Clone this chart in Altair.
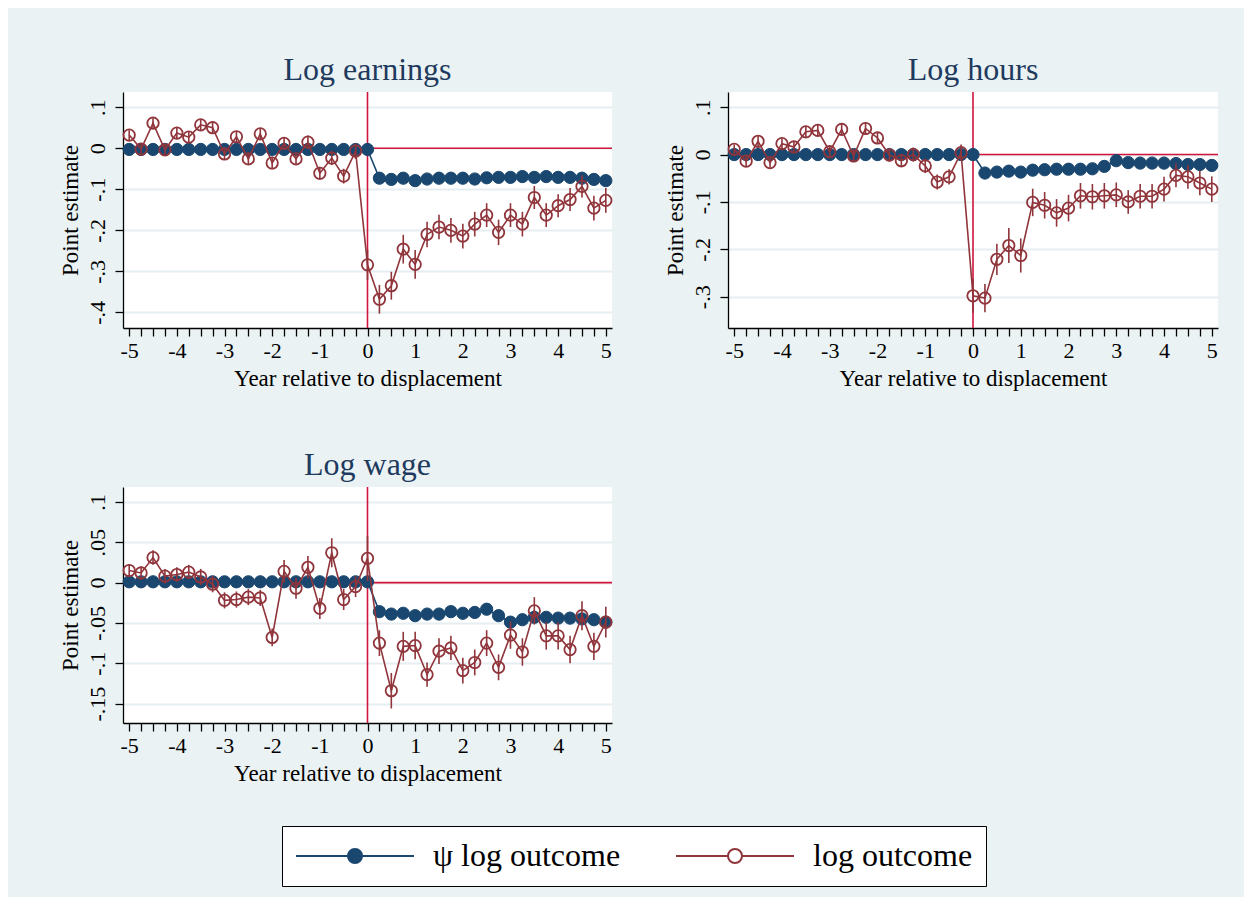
import altair as alt
import pandas as pd

# ---------------- data ----------------
QUARTERS = [-5.0, -4.75, -4.5, -4.25, -4.0, -3.75, -3.5, -3.25, -3.0, -2.75, -2.5,
            -2.25, -2.0, -1.75, -1.5, -1.25, -1.0, -0.75, -0.5, -0.25, 0.0,
            0.25, 0.5, 0.75, 1.0, 1.25, 1.5, 1.75, 2.0, 2.25, 2.5,
            2.75, 3.0, 3.25, 3.5, 3.75, 4.0, 4.25, 4.5, 4.75, 5.0]
SERIES = ["ψ log outcome", "log outcome"]

# Log earnings
EARN_PSI = [-0.003, -0.003, -0.003, -0.003, -0.003, -0.003, -0.003, -0.003, -0.003, -0.003,
            -0.003, -0.003, -0.003, -0.003, -0.003, -0.003, -0.003, -0.003, -0.003, -0.003,
            -0.003,
            -0.073, -0.076, -0.073, -0.079, -0.075, -0.073, -0.073, -0.073, -0.075, -0.072,
            -0.071, -0.071, -0.069, -0.071, -0.069, -0.071, -0.071, -0.073, -0.076, -0.079]
EARN_LOG = [0.032, -0.002, 0.061, -0.004, 0.037, 0.027, 0.057, 0.050, -0.014, 0.028,
            -0.026, 0.035, -0.036, 0.012, -0.026, 0.015, -0.061, -0.024, -0.068, -0.007,
            -0.284,
            -0.368, -0.335, -0.246, -0.283, -0.210, -0.192, -0.200, -0.214, -0.185, -0.163,
            -0.205, -0.163, -0.185, -0.120, -0.163, -0.140, -0.125, -0.093, -0.146, -0.127]
EARN_CI = [0.012, 0.012, 0.012, 0.013, 0.013, 0.013, 0.013, 0.013, 0.014, 0.014,
           0.014, 0.014, 0.015, 0.015, 0.015, 0.016, 0.016, 0.017, 0.018, 0.019,
           0.037,
           0.035, 0.034, 0.035, 0.035, 0.031, 0.030, 0.030, 0.030, 0.030, 0.029,
           0.031, 0.029, 0.030, 0.028, 0.029, 0.028, 0.028, 0.027, 0.030, 0.030]

# Log hours
HOUR_PSI = [0.000, 0.000, 0.000, 0.000, 0.000, 0.000, 0.000, 0.000, 0.000, 0.000,
            0.000, 0.000, 0.000, 0.000, 0.000, 0.000, 0.000, 0.000, 0.000, 0.000,
            0.000,
            -0.039, -0.037, -0.035, -0.037, -0.033, -0.032, -0.031, -0.031, -0.031, -0.030,
            -0.025, -0.013, -0.017, -0.018, -0.018, -0.018, -0.019, -0.021, -0.021, -0.023]
HOUR_LOG = [0.011, -0.014, 0.028, -0.017, 0.023, 0.016, 0.048, 0.051, 0.006, 0.053,
            -0.003, 0.055, 0.035, -0.001, -0.013, 0.000, -0.024, -0.058, -0.047, 0.004,
            -0.298,
            -0.303, -0.221, -0.192, -0.213, -0.101, -0.107, -0.123, -0.113, -0.087, -0.089,
            -0.087, -0.085, -0.100, -0.088, -0.088, -0.073, -0.044, -0.047, -0.060, -0.073]
HOUR_CI = [0.010, 0.010, 0.011, 0.011, 0.011, 0.011, 0.012, 0.012, 0.012, 0.012,
           0.013, 0.013, 0.013, 0.014, 0.014, 0.015, 0.015, 0.016, 0.016, 0.017,
           0.036,
           0.030, 0.033, 0.037, 0.036, 0.029, 0.028, 0.029, 0.028, 0.027, 0.027,
           0.027, 0.026, 0.025, 0.026, 0.026, 0.026, 0.025, 0.025, 0.026, 0.027]

# Log wage
WAGE_PSI = [0.001, 0.001, 0.001, 0.001, 0.001, 0.001, 0.001, 0.001, 0.001, 0.001,
            0.001, 0.001, 0.001, 0.001, 0.001, 0.001, 0.001, 0.001, 0.001, 0.001,
            0.001,
            -0.036, -0.039, -0.038, -0.041, -0.039, -0.039, -0.036, -0.038, -0.037, -0.033,
            -0.041, -0.049, -0.046, -0.043, -0.043, -0.044, -0.044, -0.045, -0.046, -0.049]
WAGE_LOG = [0.015, 0.012, 0.031, 0.008, 0.010, 0.013, 0.007, -0.002, -0.022, -0.021,
            -0.018, -0.019, -0.068, 0.014, -0.007, 0.019, -0.032, 0.037, -0.021, -0.005,
            0.030,
            -0.075, -0.134, -0.079, -0.078, -0.114, -0.085, -0.081, -0.109, -0.099, -0.075,
            -0.105, -0.065, -0.086, -0.035, -0.066, -0.066, -0.083, -0.041, -0.079, -0.049]
WAGE_CI = [0.008, 0.008, 0.009, 0.009, 0.009, 0.009, 0.010, 0.010, 0.010, 0.010,
           0.010, 0.010, 0.011, 0.014, 0.013, 0.014, 0.013, 0.018, 0.013, 0.013,
           0.028,
           0.016, 0.022, 0.018, 0.017, 0.015, 0.016, 0.015, 0.016, 0.016, 0.016,
           0.016, 0.017, 0.017, 0.017, 0.017, 0.017, 0.017, 0.018, 0.017, 0.019]

EARN_TICKS = [0.1, 0, -0.1, -0.2, -0.3, -0.4]
HOUR_TICKS = [0.1, 0, -0.1, -0.2, -0.3]
WAGE_TICKS = [0.1, 0.05, 0, -0.05, -0.1, -0.15]

# ---------------- style ----------------
FONT = "Liberation Serif"
BG = "#EAF2F3"
GRID = "#E6EEF1"
BLUE = "#1A476F"
RED = "#90353B"
REF = "#D0143C"
TITLE_C = "#1E3A5E"
X_DOMAIN = [-5.13, 5.13]

R_U = 0.119
LEGEND_PATH = (f"M-1,0H-{R_U}M{R_U},0H1M-{R_U},0A{R_U},{R_U},0,1,1,{R_U},0"
               f"A{R_U},{R_U},0,1,1,-{R_U},0Z")

legend = alt.Legend(
    title=None, orient="none", legendX=159, legendY=734, direction="horizontal",
    symbolType=LEGEND_PATH, symbolSize=118 * 118, symbolStrokeWidth=2,
    labelFont=FONT, labelFontSize=32, labelColor="black", labelOffset=18,
    labelLimit=500, columnPadding=54, padding=13, clipHeight=34,
    strokeColor="black", fillColor="white",
)


def panel_df(psi, log, ci):
    rows = []
    for q, a, b, c in zip(QUARTERS, psi, log, ci):
        rows.append(dict(q=q, series=SERIES[0], est=a, lo=a, hi=a))
        rows.append(dict(q=q, series=SERIES[1], est=b, lo=b - c, hi=b + c))
    return pd.DataFrame(rows)


def panel(title, df, ydomain, yticks, width):
    xax = alt.Axis(values=QUARTERS, title="Year relative to displacement",
                   labelExpr="datum.value % 1 == 0 ? '' + datum.value : ''",
                   labelFlush=False, labelOverlap=False, grid=False)
    yax = alt.Axis(values=yticks, title="Point estimate",
                   labelExpr="replace('' + datum.value, '0.', '.')",
                   labelFlush=False, labelOverlap=False, grid=True)
    xs = alt.Scale(domain=X_DOMAIN, nice=False, zero=False)
    ys = alt.Scale(domain=ydomain, nice=False, zero=False)
    X = alt.X("q:Q", scale=xs, axis=xax)
    Y = alt.Y("est:Q", scale=ys, axis=yax)

    ref_v = pd.DataFrame({"q": [0.0]})
    ref_h = pd.DataFrame({"q": [0.0], "q2": [X_DOMAIN[1]], "est": [0.0]})

    stroke = alt.Stroke("series:N", scale=alt.Scale(domain=SERIES, range=[BLUE, RED]), legend=legend)
    fill = alt.Fill("series:N", scale=alt.Scale(domain=SERIES, range=[BLUE, "transparent"]), legend=legend)

    blue = df[df.series == SERIES[0]]
    red = df[df.series == SERIES[1]]

    vline = alt.Chart(ref_v).mark_rule(color=REF, strokeWidth=1.6).encode(x=X)
    hline = alt.Chart(ref_h).mark_rule(color=REF, strokeWidth=1.6).encode(x=X, x2="q2:Q", y=Y)
    bline = alt.Chart(blue).mark_line(color=BLUE, strokeWidth=1.6).encode(x=X, y=Y)
    bpts = alt.Chart(blue).mark_point(shape="circle", size=150, strokeWidth=1, opacity=1).encode(
        x=X, y=Y, stroke=stroke, fill=fill)
    rline = alt.Chart(red).mark_line(color=RED, strokeWidth=1.6).encode(x=X, y=Y)
    rerr = alt.Chart(red).mark_rule(color=RED, strokeWidth=1.6).encode(
        x=X, y=alt.Y("lo:Q", scale=ys, axis=yax), y2="hi:Q")
    rpts = alt.Chart(red).mark_point(shape="circle", size=130, strokeWidth=1.8, opacity=1).encode(
        x=X, y=Y, stroke=stroke, fill=fill)

    return alt.layer(vline, hline, bline, bpts, rline, rerr, rpts).properties(
        width=width, height=236, title=title)


earn = panel("Log earnings", panel_df(EARN_PSI, EARN_LOG, EARN_CI), [-0.438, 0.137], EARN_TICKS, 489)
hours = panel("Log hours", panel_df(HOUR_PSI, HOUR_LOG, HOUR_CI), [-0.366, 0.132], HOUR_TICKS, 490)
wage = panel("Log wage", panel_df(WAGE_PSI, WAGE_LOG, WAGE_CI), [-0.174, 0.1185], WAGE_TICKS, 489)

chart = alt.concat(
    earn, hours, wage, columns=2,
    spacing=alt.RowColnumber(row=159, column=116), bounds="flush",
).properties(
    padding={"left": 51, "top": 46, "right": 22, "bottom": 10},
    background=BG,
).configure_view(
    fill="white", strokeWidth=0
).configure_axis(
    domainColor="black", domainWidth=1.3, tickColor="black", tickWidth=1.3, tickSize=8,
    labelFont=FONT, labelFontSize=22, labelColor="black",
    titleFont=FONT, titleFontSize=23, titleFontWeight="normal", titleColor="black",
    gridColor=GRID, gridWidth=2,
).configure_axisX(
    labelPadding=4, titlePadding=6,
).configure_axisY(
    labelAngle=270, labelAlign="center", labelBaseline="bottom", labelPadding=6, titlePadding=4,
).configure_title(
    font=FONT, fontSize=32, fontWeight="normal", color=TITLE_C, offset=4, anchor="middle",
)

chart.save("out.html", embed_options={"renderer": "svg", "actions": False})
